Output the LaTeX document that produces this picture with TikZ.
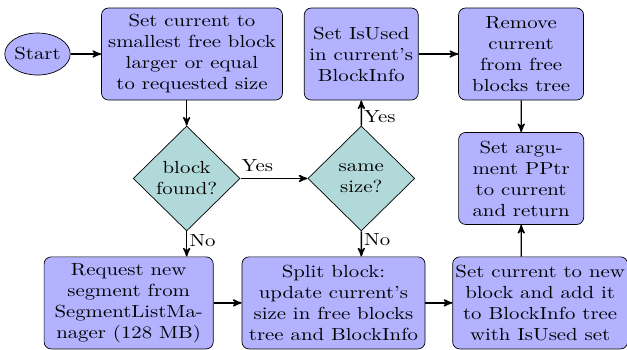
\documentclass[tikz,border=0pt]{standalone}
\usepackage{amsmath}
\usepackage{tikz}
\usetikzlibrary{arrows,shapes.geometric}

\begin{document}
\begin{tikzpicture}[->, >=stealth', auto, node distance=2.5cm, thick,
                    xscale=1.189, transform shape]
    \tikzstyle{block}=[rectangle, draw, thin, fill=blue!30, rounded corners,
                       align=center, inner xsep=1pt, minimum height=52.6pt]
    \tikzstyle{decision}=[diamond, draw, thin, fill=teal!30, align=center,
                          inner sep=0pt, minimum width=51.4pt, minimum height=60pt]
    \tikzstyle{startstop}=[ellipse, draw, thin, fill=blue!30, inner sep=0pt,
                           minimum height=24pt]
    \tikzstyle{answer}=[inner sep=1pt]

    \useasboundingbox (-3.244,-5.945) rectangle (7.350,1.085);

    \node[block, minimum width=87pt] (current)
        {Set current to\\smallest free block\\larger or equal\\to requested size};
    \node[startstop] (start) [left of=current, node distance=2.61cm] {Start};
    \node[block, minimum width=54.8pt] (isused) [right of=current, node distance=2.86cm]
        {Set IsUsed\\in current's\\BlockInfo};
    \node[block, minimum width=60.1pt] (remove) [right of=isused, node distance=2.7cm]
        {Remove\\current\\from free\\blocks tree};
    \node[decision] (found) [below of=current, xshift=-0.09cm] {block\\found?};
    \node[decision] (same)  [below of=isused]                  {same\\size?};
    \node[block, minimum width=60.1pt] (pptr) [below of=remove]
        {Set argu-\\ment PPtr\\to current\\and return};
    \node[block, minimum width=81.3pt] (request) [below of=found, xshift=-0.98cm]
        {Request new\\segment from\\SegmentListMa-\\nager (128 MB)};
    \node[block, minimum width=88pt] (split) [below of=same, xshift=-0.47cm]
        {Split block:\\update current's\\size in free blocks\\tree and BlockInfo};
    \node[block, minimum width=84.1pt] (newblock) [below of=pptr, xshift=0.32cm]
        {Set current to new\\block and add it\\to BlockInfo tree\\with IsUsed set};

    \path (start) edge (current);
    \path (current.south -| found) edge (found);
    \path (found) edge node[near start] {Yes} (same);
    \path (found) edge node[answer, pos=0.35] {No} (found |- request.north);
    \path (same) edge node[answer, pos=0.35, swap] {Yes} (isused);
    \path (same) edge node[answer, pos=0.35] {No} (same |- split.north);
    \path (isused) edge (remove);
    \path (remove) edge (pptr);
    \path (request) edge (split);
    \path (split) edge (newblock);
    \path (pptr |- newblock.north) edge (pptr);
\end{tikzpicture}
\end{document}
